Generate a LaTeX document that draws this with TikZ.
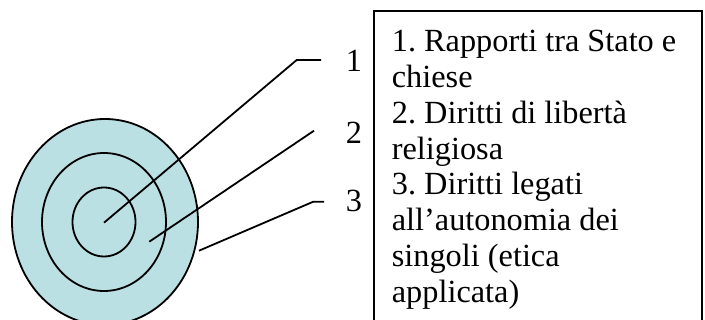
\documentclass[tikz,border=0pt]{standalone}
\usepackage{fontspec}
\setmainfont{Liberation Serif}
\usetikzlibrary{shapes.geometric}
\definecolor{ringfill}{HTML}{BBE0E3}
\frenchspacing
\begin{document}
\begin{tikzpicture}[x=1pt,y=-1pt,
  ring/.style={ellipse,draw=black,line width=1.8pt,fill=ringfill,inner sep=0pt},
  leader/.style={draw=black,line width=1.8pt},
  numlabel/.style={anchor=base,inner sep=0pt,font=\fontsize{32.3}{36}\selectfont},
  txtline/.style={anchor=base west,inner sep=0pt,font=\fontsize{32.3}{36}\selectfont},
  legendbox/.style={draw=black,line width=2.2pt}]
\clip (0,0) rectangle (705,320);
% rings
\node[ring,minimum width=186pt,minimum height=206pt] (outer) at (105,222) {};
\node[ring,minimum width=124pt,minimum height=138pt] (middle) at (104,222) {};
\node[ring,minimum width=63pt,minimum height=69pt] (inner) at (104,222) {};
% labels
\node[numlabel] (l1) at (354,71.7) {1};
\node[numlabel] (l2) at (354,143.3) {2};
\node[numlabel] (l3) at (354,212) {3};
% leader coordinates
\coordinate (s1) at (104,222.7);
\coordinate (k1) at (296.7,60);
\coordinate (e1) at (321,60);
\coordinate (s2) at (149.3,241.7);
\coordinate (e2) at (314,130.7);
\coordinate (s3) at (199,250.7);
\coordinate (k3) at (313.3,201.7);
\coordinate (e3) at (324,201.7);
\draw[leader] (s1) -- (k1) -- (e1);
\draw[leader] (s2) -- (e2);
\draw[leader] (s3) -- (k3) -- (e3);
% legend box
\draw[legendbox] (374,11) rectangle (702,340);
\node[txtline] (t1) at (391.7,51.7) {1. Rapporti tra Stato e};
\node[txtline] (t2) at (391.7,87.5) {chiese};
\node[txtline] (t3) at (391.7,123.3) {2. Diritti di libertà};
\node[txtline] (t4) at (391.7,159.1) {religiosa};
\node[txtline] (t5) at (391.7,194.9) {3. Diritti legati};
\node[txtline] (t6) at (391.7,230.7) {all’autonomia dei};
\node[txtline] (t7) at (391.7,266.5) {singoli (etica};
\node[txtline] (t8) at (391.7,302.3) {applicata)};
\end{tikzpicture}
\end{document}
